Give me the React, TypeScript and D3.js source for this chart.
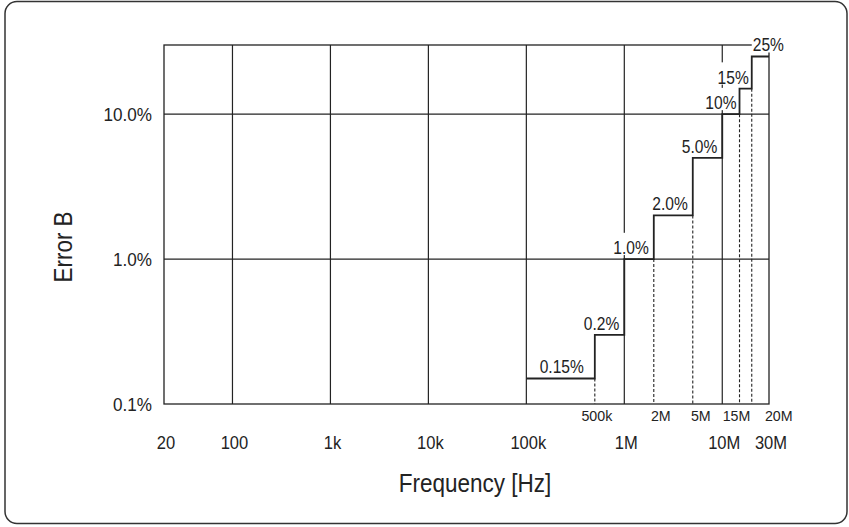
import React from "react";
import * as d3 from "d3";

// ---- data ----
const stepStartHz = [1e5, 5e5, 1e6, 2e6, 5e6, 1e7, 1.5e7, 2e7];
const stepEndHz = [5e5, 1e6, 2e6, 5e6, 1e7, 1.5e7, 2e7, 3e7];
const errorLevelPct = [0.15, 0.3, 1, 2, 5, 10, 15, 25];
const errorLabels = ["0.15%", "0.2%", "1.0%", "2.0%", "5.0%", "10%", "15%", "25%"];

const mainTickHz = [20, 100, 1e3, 1e4, 1e5, 1e6, 1e7, 3e7];
const mainTickLabels = ["20", "100", "1k", "10k", "100k", "1M", "10M", "30M"];
const gridHz = [100, 1e3, 1e4, 1e5, 1e6, 1e7];
const minorTickHz = [5e5, 2e6, 5e6, 1.5e7, 2e7];
const minorTickLabels = ["500k", "2M", "5M", "15M", "20M"];

const yTickPct = [0.1, 1, 10];
const yTickLabels = ["0.1%", "1.0%", "10.0%"];
const yGridPct = [1, 10];

// ---- layout ----
const W = 849;
const H = 527;
const M = { left: 164, right: 769, top: 45, bottom: 404 };
const FONT = "'Liberation Sans', Arial, sans-serif";
const INK = "#232323";
const minorDx = [2, 7, 8, -3, 27];
const labelDx = [-11, -5, -5, -5, -5, -3, -3, 0];
const labelAnchorStart = [false, false, false, false, false, false, false, true];
const LABEL_FS = 19;
const LABEL_SX = 0.82;

const charW: Record<string, number> = { ".": 0.278, "%": 0.889 };
function estWidth(s: string, size: number, sx: number) {
  let w = 0;
  for (const c of s) w += charW[c] ?? 0.556;
  return w * size * sx;
}

type TProps = {
  x: number;
  y: number;
  size: number;
  sx: number;
  anchor?: "start" | "middle" | "end";
  rotate?: number;
  children: React.ReactNode;
};

function T({ x, y, size, sx, anchor = "start", rotate = 0, children }: TProps) {
  const tr = `translate(${x},${y})${rotate ? ` rotate(${rotate})` : ""} scale(${sx},1)`;
  return (
    <text transform={tr} fontSize={size} textAnchor={anchor} fill={INK}>
      {children}
    </text>
  );
}

export default function App() {
  const x = d3.scaleLog().domain([20, 3e7]).range([M.left, M.right]);
  const y = d3.scaleLog().domain([0.1, 30]).range([M.bottom, M.top]);

  const pts: [number, number][] = stepStartHz.map((s, i) => [s, errorLevelPct[i]]);
  pts.push([stepEndHz[stepEndHz.length - 1], errorLevelPct[errorLevelPct.length - 1]]);
  const stepLine = d3
    .line<[number, number]>()
    .x((d) => x(d[0]))
    .y((d) => y(d[1]))
    .curve(d3.curveStepAfter);

  return (
    <svg
      width={W}
      height={H}
      style={{ position: "absolute", left: 0, top: 0, background: "#fff" }}
      fontFamily={FONT}
    >
      <rect x={5} y={1.5} width={842} height={522} rx={12} fill="#fff" stroke="#333" strokeWidth={1.5} />

      {/* plot frame */}
      <rect x={M.left} y={M.top} width={M.right - M.left} height={M.bottom - M.top} fill="none" stroke={INK} strokeWidth={1.3} />

      {/* grid */}
      {gridHz.map((f) => (
        <line key={"gx" + f} x1={x(f)} x2={x(f)} y1={M.top} y2={M.bottom} stroke={INK} strokeWidth={1.2} />
      ))}
      {yGridPct.map((p) => (
        <line key={"gy" + p} x1={M.left} x2={M.right} y1={y(p)} y2={y(p)} stroke={INK} strokeWidth={1.2} />
      ))}

      {/* dashed drop lines */}
      {stepStartHz.map((s, i) => {
        if (i === 0 || gridHz.includes(s)) return null;
        const lo = Math.min(errorLevelPct[i - 1], errorLevelPct[i]);
        return (
          <line key={"d" + i} x1={x(s)} x2={x(s)} y1={y(lo)} y2={M.bottom} stroke={INK} strokeWidth={1.1} strokeDasharray="3,2" />
        );
      })}

      {/* step curve */}
      <path d={stepLine(pts) || ""} fill="none" stroke={INK} strokeWidth={1.8} />

      {/* step labels with white background boxes */}
      {errorLabels.map((t, i) => {
        const start = labelAnchorStart[i];
        const lx = start ? x(stepStartHz[i]) + 1 : x(stepEndHz[i]) + labelDx[i];
        const ly = y(errorLevelPct[i]) - 5;
        const w = estWidth(t, LABEL_FS, LABEL_SX);
        const left = start ? lx : lx - w;
        return (
          <g key={"l" + i}>
            <rect x={left - 1} y={ly - LABEL_FS * 1.12} width={w + 2} height={LABEL_FS * 1.12 + 1} fill="#fff" />
            <T x={lx} y={ly} size={LABEL_FS} sx={LABEL_SX} anchor={start ? "start" : "end"}>
              {t}
            </T>
          </g>
        );
      })}

      {/* y tick labels */}
      {yTickPct.map((p, i) => (
        <T key={"yt" + p} x={152} y={y(p) + 7} size={19} sx={0.9} anchor="end">
          {yTickLabels[i]}
        </T>
      ))}

      {/* minor x labels */}
      {minorTickHz.map((f, i) => (
        <T key={"mx" + f} x={x(f) + minorDx[i]} y={421} size={15} sx={0.95} anchor="middle">
          {minorTickLabels[i]}
        </T>
      ))}

      {/* main x labels */}
      {mainTickHz.map((f, i) => (
        <T key={"xt" + f} x={x(f) + 2} y={449} size={18} sx={0.92} anchor="middle">
          {mainTickLabels[i]}
        </T>
      ))}

      {/* axis titles */}
      <T x={475} y={492} size={25} sx={0.9} anchor="middle">
        Frequency [Hz]
      </T>
      <T x={72} y={247} size={25} sx={0.9} anchor="middle" rotate={-90}>
        Error B
      </T>
    </svg>
  );
}
